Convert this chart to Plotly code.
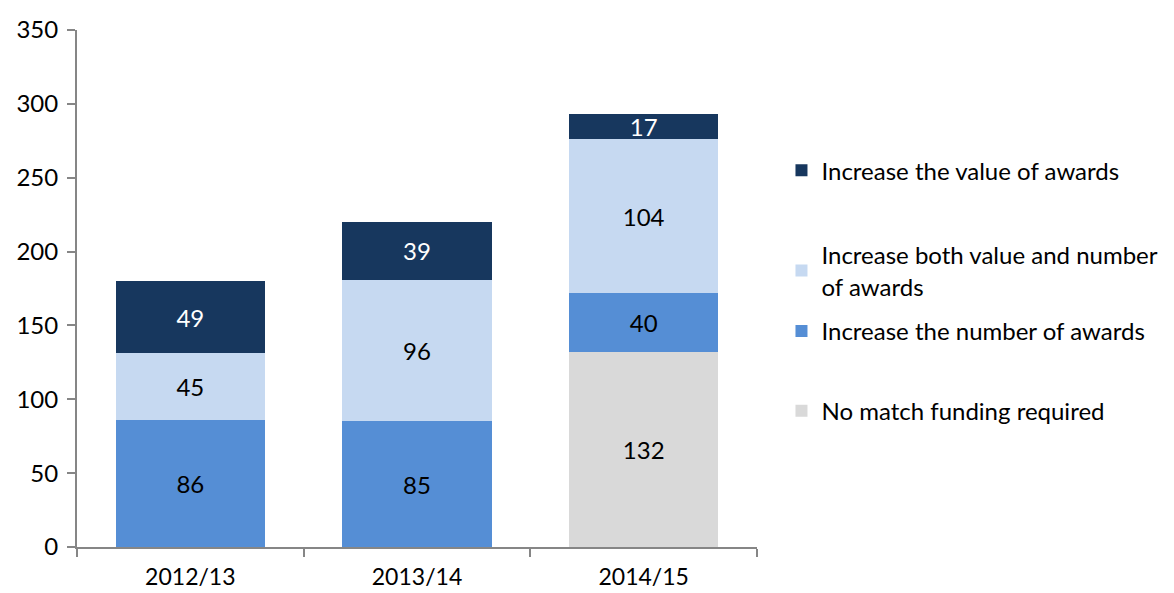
import plotly.graph_objects as go

years = ["2012/13", "2013/14", "2014/15"]
no_match = [None, None, 132]
increase_number = [86, 85, 40]
increase_both = [45, 96, 104]
increase_value = [49, 39, 17]

# stacked bottom to top, each with its own legend box (Excel-like spacing)
series = [
    ("No match funding required", no_match, "#D9D9D9", "black", "legend4"),
    ("Increase the number of awards", increase_number, "#558ED5", "black", "legend3"),
    ("Increase both value and number<br>of awards", increase_both, "#C6D9F1", "black", "legend2"),
    ("Increase the value of awards", increase_value, "#17375E", "white", "legend"),
]

fig = go.Figure()
for name, vals, colour, txt, leg in series:
    fig.add_trace(go.Bar(
        x=years, y=vals, name=name, legend=leg, showlegend=True,
        marker=dict(color=colour, line=dict(width=0)),
        text=vals, textposition="inside", insidetextanchor="middle",
        textfont=dict(color=txt, size=24), textangle=0,
    ))

leg_style = dict(x=1.036, xanchor="left", yanchor="middle", font=dict(size=24), itemwidth=30)

fig.update_layout(
    showlegend=True,
    barmode="stack",
    bargap=0.34,
    width=1174, height=593,
    margin=dict(l=69, r=425, t=22, b=54, autoexpand=False),
    plot_bgcolor="white", paper_bgcolor="white",
    font=dict(family="Lato, Open Sans, sans-serif", size=24, color="black"),
    uniformtext=dict(minsize=24, mode="show"),
    legend=dict(y=0.728, **leg_style),
    legend2=dict(y=0.534, **leg_style),
    legend3=dict(y=0.417, **leg_style),
    legend4=dict(y=0.263, **leg_style),
)
fig.update_yaxes(
    range=[0, 350], dtick=50, showgrid=False, zeroline=False,
    showline=True, linecolor="#868686", linewidth=2,
    ticks="outside", ticklen=8, tickcolor="#868686", tickwidth=2,
    ticklabelstandoff=4,
)
fig.update_xaxes(
    showgrid=False, showline=True, linecolor="#868686", linewidth=2,
    ticks="outside", tickson="boundaries", ticklen=8, tickcolor="#868686", tickwidth=2,
    tickfont=dict(size=23), ticklabelstandoff=8,
)

fig.write_html("out.html")
